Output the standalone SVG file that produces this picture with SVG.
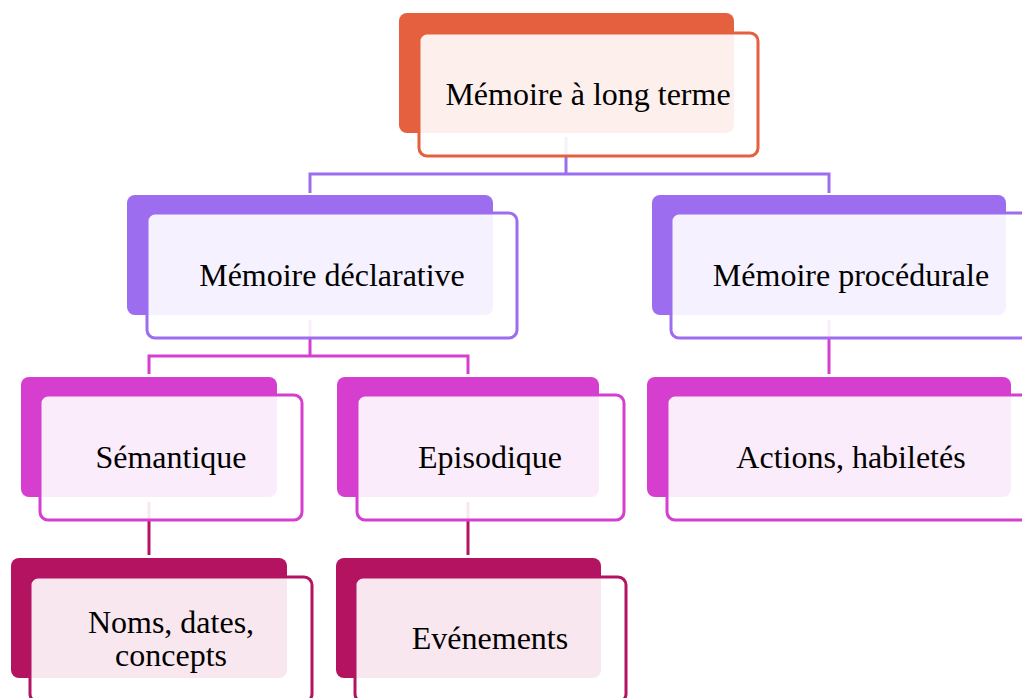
<svg xmlns="http://www.w3.org/2000/svg" width="1022" height="698" viewBox="0 0 1022 698">
<style>
.lbl{font-family:"Liberation Serif","Times New Roman",serif;font-size:32px;fill:#000;text-anchor:middle}
.front{fill:#fff;fill-opacity:0.9;stroke-width:3}
.c{fill:none;stroke-width:3}
.o{fill:#E4603E}.os{stroke:#E4603E}
.p{fill:#9D6DF0}.ps{stroke:#9D6DF0}
.m{fill:#D63ECF}.ms{stroke:#D63ECF}
.r{fill:#B41362}.rs{stroke:#B41362}
</style>
<rect width="1022" height="698" fill="#fff"/>
<g id="connectors">
<path class="c ps" d="M566 137V174M310 174H829M310 172.5V193M829 172.5V193"/>
<path class="c ms" d="M310 320V356M149 356H468M149 354.5V374M468 354.5V374"/>
<path class="c ms" d="M829 320V374"/>
<path class="c rs" d="M149 502V555"/>
<path class="c rs" d="M468 502V555"/>
</g>
<g id="n-long-terme">
<rect class="o" x="399" y="13" width="335" height="120" rx="8"/>
<rect class="front os" x="419" y="33" width="339" height="123" rx="8"/>
<text class="lbl" x="588" y="105">Mémoire à long terme</text>
</g>
<g id="n-declarative">
<rect class="p" x="127" y="195" width="366" height="120" rx="8"/>
<rect class="front ps" x="147" y="213" width="370" height="125" rx="8"/>
<text class="lbl" x="332" y="286">Mémoire déclarative</text>
</g>
<g id="n-procedurale">
<rect class="p" x="652" y="195" width="354" height="120" rx="8"/>
<rect class="front ps" x="671" y="213" width="359" height="125" rx="8"/>
<text class="lbl" x="851" y="286">Mémoire procédurale</text>
</g>
<g id="n-semantique">
<rect class="m" x="21" y="377" width="256" height="120" rx="8"/>
<rect class="front ms" x="40" y="395" width="262" height="125" rx="8"/>
<text class="lbl" x="171" y="468">Sémantique</text>
</g>
<g id="n-episodique">
<rect class="m" x="337" y="377" width="262" height="120" rx="8"/>
<rect class="front ms" x="357" y="395" width="267" height="125" rx="8"/>
<text class="lbl" x="490" y="468">Episodique</text>
</g>
<g id="n-actions">
<rect class="m" x="647" y="377" width="364" height="120" rx="8"/>
<rect class="front ms" x="667" y="395" width="369" height="125" rx="8"/>
<text class="lbl" x="851" y="468">Actions, habiletés</text>
</g>
<g id="n-noms">
<rect class="r" x="11" y="558" width="276" height="120" rx="8"/>
<rect class="front rs" x="30" y="577" width="282" height="125" rx="8"/>
<text class="lbl" x="171" y="633">Noms, dates,</text>
<text class="lbl" x="171" y="666">concepts</text>
</g>
<g id="n-evenements">
<rect class="r" x="336" y="558" width="265" height="120" rx="8"/>
<rect class="front rs" x="355" y="577" width="271" height="125" rx="8"/>
<text class="lbl" x="490" y="649">Evénements</text>
</g>
</svg>
